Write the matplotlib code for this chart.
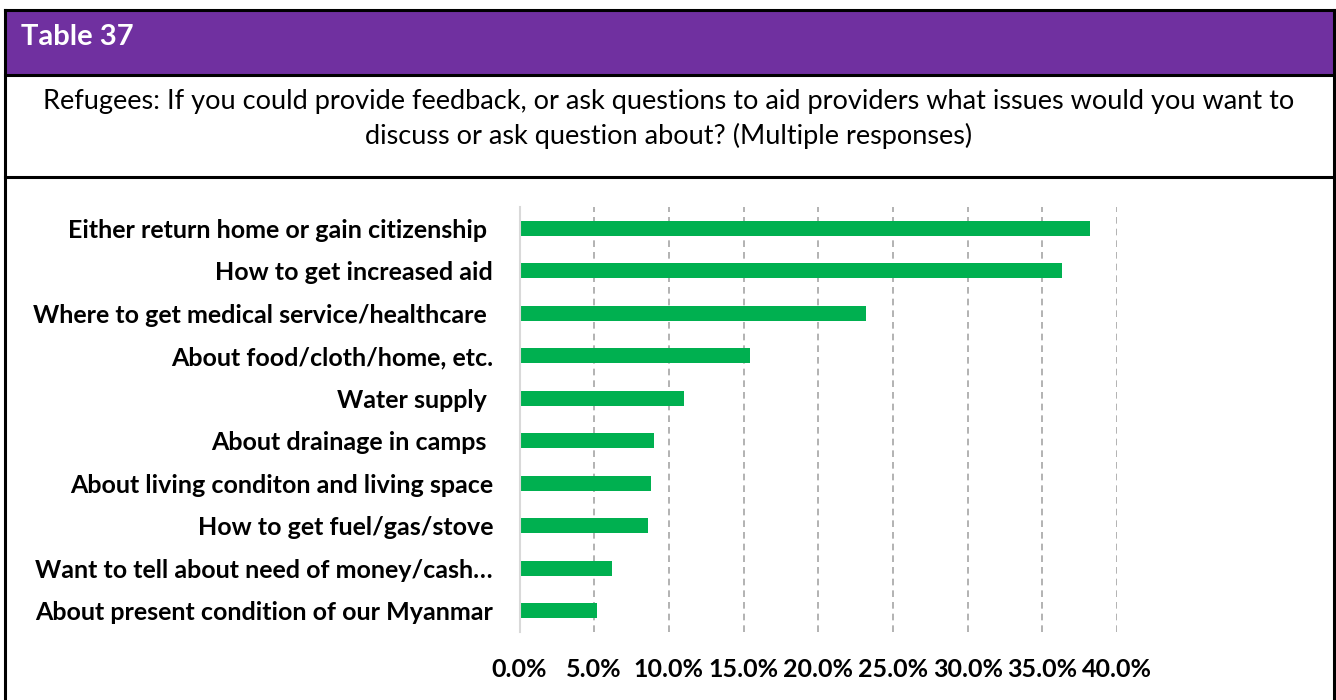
import matplotlib
matplotlib.use("Agg")
import matplotlib.pyplot as plt
from matplotlib.lines import Line2D
from matplotlib.patches import Rectangle
from matplotlib.ticker import FuncFormatter, MultipleLocator

# ---- data ----
title = "Table 37"
subtitle = ("Refugees: If you could provide feedback, or ask questions to aid providers what issues would you want to\n"
            "discuss or ask question about? (Multiple responses)")
categories = [
    "Either return home or gain citizenship ",
    "How to get increased aid",
    "Where to get medical service/healthcare ",
    "About food/cloth/home, etc.",
    "Water supply ",
    "About drainage in camps ",
    "About living conditon and living space",
    "How to get fuel/gas/stove",
    "Want to tell about need of money/cash\u2026",
    "About present condition of our Myanmar",
]
values = [38.2, 36.3, 23.2, 15.4, 11.0, 9.0, 8.8, 8.6, 6.2, 5.2]

W, H = 1336, 700
plt.rcParams["font.family"] = ["Lato", "DejaVu Sans"]

fig = plt.figure(figsize=(W / 100, H / 100), dpi=100)
fig.patch.set_facecolor("white")


def fx(px):
    return px / W


def fy(py):
    return 1 - py / H


# header band
fig.add_artist(Rectangle((fx(5), fy(75)), fx(1334) - fx(5), fy(10) - fy(75),
                         transform=fig.transFigure, facecolor="#7030A0",
                         edgecolor="none", zorder=0))
# table borders
lw = 2.2
for xs, ys in [
    ([5, 1334], [10, 10]),
    ([5, 1334], [75, 75]),
    ([5, 1334], [177, 177]),
    ([5, 5], [10, 700]),
    ([1334, 1334], [10, 700]),
]:
    fig.add_artist(Line2D([fx(x) for x in xs], [fy(y) for y in ys],
                          transform=fig.transFigure, color="black", lw=lw))

fig.text(fx(21), fy(37), title, color="white", fontsize=21, fontweight="bold",
         va="center", ha="left")
fig.text(fx(669), fy(119), subtitle, color="black", fontsize=19.5,
         va="center", ha="center", linespacing=1.4)

# ---- chart ----
ax = fig.add_axes([fx(519.5), fy(632), fx(1117) - fx(519.5), fy(207) - fy(632)])
y = list(range(len(categories)))
ax.barh(y, values, height=0.36, color="#00B050", zorder=3)
ax.set_ylim(len(categories) - 0.5, -0.5)
ax.set_xlim(0, 40)
ax.xaxis.set_major_locator(MultipleLocator(5))
ax.xaxis.set_major_formatter(FuncFormatter(lambda v, p: f"{v:.1f}%"))
ax.grid(axis="x", color="#A6A6A6", linestyle=(0, (4, 3)), lw=1.2, zorder=0)
ax.set_yticks(y)
ax.set_yticklabels(categories, fontsize=18, fontweight="bold")
for lbl in ax.get_xticklabels():
    lbl.set_fontweight("bold")
ax.tick_params(axis="x", length=0, pad=19, labelsize=18)
ax.tick_params(axis="y", length=0, pad=19)
for side in ["top", "right", "bottom"]:
    ax.spines[side].set_visible(False)
ax.spines["left"].set_color("#D9D9D9")
ax.spines["left"].set_linewidth(1.5)
ax.spines["left"].set_zorder(4)

fig.savefig("out.png", dpi=100)
